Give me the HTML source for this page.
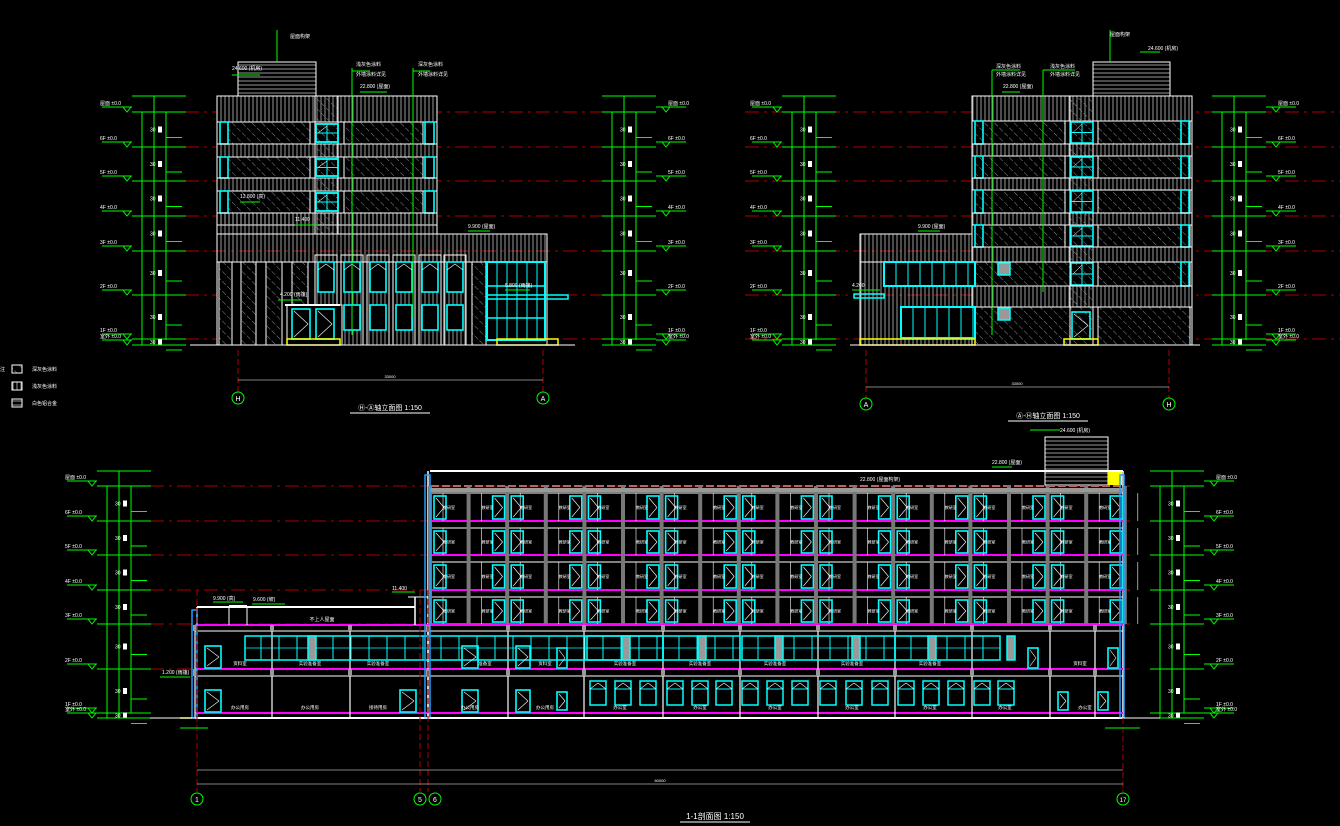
<!DOCTYPE html>
<html><head><meta charset="utf-8">
<style>
html,body{margin:0;padding:0;background:#000;}
svg{display:block;}
text{font-family:"Liberation Sans","Noto Sans CJK SC",sans-serif;fill:#fff;}
</style></head>
<body>
<svg id="s" width="1340" height="826" viewBox="0 0 1340 826" xmlns="http://www.w3.org/2000/svg">
<defs>
<pattern id="dg" width="7" height="7" patternUnits="userSpaceOnUse" patternTransform="rotate(-45)">
<line x1="0" y1="0" x2="0" y2="7" stroke="#8a8a8a" stroke-width="1" stroke-dasharray="4 2"/></pattern>
<pattern id="vs" width="4" height="10" patternUnits="userSpaceOnUse">
<line x1="1" y1="0" x2="1" y2="10" stroke="#bdbdbd" stroke-width="0.8"/></pattern>
<pattern id="hs" width="10" height="4" patternUnits="userSpaceOnUse">
<line x1="0" y1="1" x2="10" y2="1" stroke="#bdbdbd" stroke-width="0.8"/></pattern>
</defs>
<g id="g"></g>
</svg>
<script>
var g=document.getElementById('g'),h='';
function L(x1,y1,x2,y2,c,w,d){h+='<line x1="'+x1+'" y1="'+y1+'" x2="'+x2+'" y2="'+y2+'" stroke="'+c+'" stroke-width="'+(w||1)+'"'+(d?' stroke-dasharray="'+d+'"':'')+'/>';}
function R(x,y,w,hh,s,f,sw){h+='<rect x="'+x+'" y="'+y+'" width="'+w+'" height="'+hh+'" fill="'+(f||'none')+'" stroke="'+(s||'none')+'" stroke-width="'+(sw||1)+'"/>';}
function T(x,y,t,sz,a,c){h+='<text x="'+x+'" y="'+y+'" font-size="'+(sz||6)+'"'+(a?' text-anchor="'+a+'"':'')+(c?' style="fill:'+c+'"':'')+'>'+t+'</text>';}
function C(x,y,r,c){h+='<circle cx="'+x+'" cy="'+y+'" r="'+r+'" fill="none" stroke="'+c+'"/>';}
var W='#fff',G='#00ff00',CY='#00ffff',RD='#b00000',Y='#ffff00',M='#ff00ff',GR='#999';
function win(x,y,w,hh){R(x,y,w,hh,CY,'none',1.6);L(x+2,y+2,x+w-2,y+hh/2,W,0.6);L(x+w-2,y+hh/2,x+2,y+hh-2,W,0.6);}
function win2(x,y,w,hh){R(x,y,w,hh,CY,'none',1.6);L(x+w/2,y,x+w/2,y+hh,CY,1);L(x,y+hh/2,x+w,y+hh/2,CY,1);L(x+2,y+hh/2,x+w/2,y+2,W,.5);}
function redLevels(levels,x1,x2){levels.forEach(function(y){L(x1,y,x2,y,RD,1,'14 5 3 5');});}
function dimCol(xa,levels,top,right){
 var xs=right?[xa,xa+12,xa+24]:[xa,xa+12,xa+24];
 L(xs[0],levels[0],xs[0],levels[levels.length-1],G);L(xs[1],top,xs[1],levels[levels.length-1],G);L(xs[2],levels[0],xs[2],levels[levels.length-1]-5,G);
 L(xs[0]-10,top,xs[2]+20,top,G);
 levels.forEach(function(y,i){L(xs[0]-10,y,xs[2]+20,y,G);
   if(i<levels.length-1){var m=(y+levels[i+1])/2;T(xs[1]-4,m+2,'30',5);R(xs[2]-8,m-3,4,6,null,W);L(xs[2],m+8,xs[2]+16,m+8,G);}
   var lx=right?xs[2]+20:xs[0]-40;L(lx,y-5,lx+30,y-5,G);
   var tx=right?lx+10:lx+25;h+='<polygon points="'+(tx-4)+','+(y-5)+' '+(tx+4)+','+(y-5)+' '+tx+','+y+'" fill="none" stroke="'+G+'"/>';
   T(right?lx+12:lx-2,y-7,['屋面','6F','5F','4F','3F','2F','1F','室外'][i%8]+' ±0.0',5);});
}
// ===== Left elevation =====
var lv=[112,147,181,216,251,295,339,345];
redLevels(lv.slice(0,7),185,605);
dimCol(142,lv,96,false);dimCol(612,lv,96,true);
// tower
R(238,62,78,34,W,'url(#hs)');L(277,30,277,62,G);T(290,38,'屋面构架',5);L(232,75,260,75,G);T(232,70,'24.600 (机房)',5);
// main block
R(217,96,220,138,W,'#000');R(217,96,220,26,W,'url(#vs)');
[[122,144],[157,178],[191,213]].forEach(function(r,i){
 R(228,r[0],82,r[1]-r[0],W,'url(#dg)');R(344,r[0],79,r[1]-r[0],W,'url(#dg)');
 R(220,r[0],8,r[1]-r[0],CY,'none',1.6);R(425,r[0],9,r[1]-r[0],CY,'none',1.6);
 R(217,r[1],220,i<2?13:12,W,'url(#vs)');win2(316,r[0]+2,22,r[1]-r[0]-4);});
R(315,96,23,138,W,'url(#dg)');
[[122,144],[157,178],[191,213]].forEach(function(r){win2(316,r[0]+2,22,r[1]-r[0]-4);});
R(217,213,220,21,W,'url(#vs)');
// lower block
R(217,234,330,28,W,'url(#vs)');R(217,262,330,83,W,'#000');
[[219,232],[241,256],[266,282],[292,308],[472,486]].forEach(function(p){R(p[0],262,p[1]-p[0],83,W,'url(#dg)');});
[318,344,370,396,422,447].forEach(function(x){R(x-3,255,22,90,W,'url(#vs)');R(x,262,16,30,CY,'#000',1.6);R(x,305,16,25,CY,'#000',1.6);L(x,270,x+8,264,W,.6);L(x+8,264,x+16,270,W,.6);});
R(287,305,55,40,W,'#000');win(292,309,18,30);win(316,309,18,30);L(285,305,340,305,W,2);
R(487,262,58,78,CY,'none',2);for(var x=497;x<545;x+=10)L(x,262,x,340,CY,1);L(487,286,545,286,CY,1.5);L(487,318,545,318,CY,1.5);
R(487,295,81,4,CY,'none',1.5);
R(287,339,53,6,Y,'none',1.5);R(497,339,61,6,Y,'none',1.5);
L(190,345,575,345,W);
L(352,68,352,335,G);L(352,71,370,71,G);T(356,66,'浅灰色涂料',5);T(356,76,'外墙涂料详见',5);
L(413,68,413,318,G);L(413,71,430,71,G);T(418,66,'深灰色涂料',5);T(418,76,'外墙涂料详见',5);
L(360,92,387,92,G);T(360,88,'22.800 (屋面)',5);L(468,231,490,231,G);T(468,228,'9.900 (屋面)',5);
L(240,202,260,202,G);T(240,198,'13.800 (高)',5);L(295,225,318,225,G);T(295,221,'11.400',5);
L(278,300,302,300,G);T(280,296,'4.200 (雨篷)',5);L(505,290,530,290,G);T(505,287,'5.800 (雨篷)',5);
L(238,350,238,392,RD,1,'6 3');L(543,350,543,392,RD,1,'6 3');L(238,380,543,380,W,.6);T(390,378,'33000',4,'middle');
C(238,398,6,G);T(238,401,'H',7,'middle');C(543,398,6,G);T(543,401,'A',7,'middle');
T(390,410,'Ⓗ-Ⓐ轴立面图 1:150',7,'middle');L(350,413,430,413,W);
// legend
R(12,365,10,8,W,'url(#dg)');T(32,371,'深灰色涂料',5);R(12,382,10,8,W,'url(#vs)');T(32,388,'浅灰色涂料',5);R(12,399,10,8,W,'url(#hs)');T(32,405,'白色铝合金',5);T(0,371,'注',5);
// ===== Right elevation =====
redLevels(lv.slice(0,7),745,1340);
dimCol(792,lv,96,false);dimCol(1222,lv,96,true);
R(1093,62,77,34,W,'url(#hs)');L(1110,30,1110,62,G);L(1140,52,1160,52,G);T(1110,36,'屋面构架',5);T(1148,50,'24.600 (机房)',5);
R(972,96,220,249,W,'#000');R(972,96,220,25,W,'url(#vs)');
[[121,144],[156,178],[190,213],[225,247]].forEach(function(r,i){
 R(975,r[0],90,r[1]-r[0],W,'url(#dg)');R(1098,r[0],92,r[1]-r[0],W,'url(#dg)');
 R(975,r[0],8,r[1]-r[0],CY,'none',1.6);R(1181,r[0],8,r[1]-r[0],CY,'none',1.6);
 if(i<3)R(972,r[1],220,r[0+0]===190?12:12,W,'url(#vs)');});
R(1070,96,23,249,W,'url(#dg)');
[[121,144],[156,178],[190,213],[225,247],[262,286]].forEach(function(r){win2(1071,r[0]+1,22,r[1]-r[0]-2);});
R(972,247,220,15,W,'url(#vs)');R(975,262,95,24,W,'url(#dg)');R(1098,262,92,24,W,'url(#dg)');R(1181,262,8,24,CY,'none',1.6);
R(972,286,220,21,W,'url(#vs)');R(975,307,95,38,W,'url(#dg)');R(1098,307,92,38,W,'url(#dg)');win(1072,312,18,27);
R(998,263,12,12,CY,GR,1.5);R(998,308,12,12,CY,GR,1.5);
R(860,234,112,28,W,'url(#vs)');R(860,262,112,83,W,'url(#vs)');
R(884,262,91,24,CY,'#000',2);for(var x=896;x<975;x+=12)L(x,262,x,286,CY,1);
R(901,307,74,31,CY,'#000',2);for(var x=913;x<975;x+=12)L(x,307,x,338,CY,1);
R(854,294,30,4,CY,'none',1.5);
R(860,339,115,6,Y,'none',1.5);R(1064,339,34,6,Y,'none',1.5);
L(850,345,1200,345,W);
L(992,70,992,335,G);L(992,70,1020,70,G);T(996,68,'深灰色涂料',5);T(996,76,'外墙涂料详见',5);
L(1043,70,1043,292,G);L(1043,70,1075,70,G);T(1050,68,'浅灰色涂料',5);T(1050,76,'外墙涂料详见',5);
L(1002,92,1020,92,G);T(1003,88,'22.800 (屋面)',5);L(918,231,940,231,G);T(918,228,'9.900 (屋面)',5);L(852,290,880,290,G);T(852,287,'4.200',5);
L(866,350,866,398,RD,1,'6 3');L(1169,350,1169,398,RD,1,'6 3');L(866,387,1169,387,W,.6);T(1017,385,'33000',4,'middle');
C(866,404,6,G);T(866,407,'A',7,'middle');C(1169,404,6,G);T(1169,407,'H',7,'middle');
T(1048,418,'Ⓐ-Ⓗ轴立面图 1:150',7,'middle');L(1008,421,1088,421,W);
// ===== Section =====
var sl=[486,521,555,590,624,669,713,718];
redLevels(sl.slice(0,6),150,1130);
dimCol(107,sl,471,false);dimCol(1160,sl,471,true);
R(1045,437,63,48,W,'url(#hs)');R(1108,470,14,15,null,Y);L(1030,430,1060,430,G);T(1060,432,'24.600 (机房)',5);
L(430,471,1123,471,W,2);L(428,471,428,718,W,1.5);L(1123,471,1123,718,W,1.5);
L(431,486,1123,486,'#c06060',2,'8 3');
L(992,467,1012,467,G);T(992,464,'22.800 (屋面)',5);T(860,481,'22.800 (屋面构架)',5);
var cols=[];for(var i=0;i<19;i++)cols.push(430+i*38.6);
[[493,521],[528,555],[562,590],[597,624]].forEach(function(r,fi){
 L(430,r[1],1123,r[1],M,2);L(430,r[0],1123,r[0],W,1);
 cols.forEach(function(x,i){R(x-2,r[0]-7,4,r[1]-r[0]+7,null,'#777');L(x+13,r[0],x+13,r[1],W,.6);
  if(i<18){var d=(i%2==0)?x+4:x+24;win(d,r[0]+3,12,r[1]-r[0]-5);T(x+19,(r[0]+r[1])/2+2,'教研室',4,'middle');}});
});
L(430,490,1123,490,GR,4);
// 2F
L(195,669,1123,669,M,2);L(195,631,1123,631,W,1);L(195,625,1123,625,M,2);
L(195,676,1123,676,W,1);L(195,713,1123,713,M,2);L(195,718,1123,718,W,2);
[195,272,350,428,508,584,663,740,818,895,972,1050,1095].forEach(function(x){L(x,625,x,718,W,1.2);R(x-2,625,4,6,null,GR);R(x-2,669,4,7,null,GR);});
[[245,663],[742,895],[895,1000],[587,663],[663,740]].forEach(function(s){R(s[0],636,s[1]-s[0],24,CY,'none',1.5);for(var x=s[0]+16;x<s[1];x+=18)L(x,636,x,660,CY,1);L(s[0],648,s[1],648,CY,.8);});
[308,622,698,775,852,928,1007].forEach(function(x){R(x,636,8,24,CY,GR,1.5);});
win(205,646,16,22);win(462,646,16,22);win(516,646,14,22);win(557,648,10,20);win(1028,648,10,20);win(1108,648,10,20);
win(205,690,16,22);win(400,690,16,22);win(462,690,16,22);win(516,690,14,22);win(557,692,10,18);win(1058,692,10,18);win(1098,692,10,18);
[590,615,640,667,692,716,742,767,792,820,846,872,898,923,948,974,998].forEach(function(x){R(x,681,16,24,CY,'none',1.5);L(x,689,x+16,689,CY,1);L(x,689,x+8,683,W,.6);L(x+8,683,x+16,689,W,.6);});
[[240,665,'资料室'],[310,665,'实验准备室'],[378,665,'实验准备室'],[485,665,'准备室'],[545,665,'资料室'],[625,665,'实验准备室'],[700,665,'实验准备室'],[775,665,'实验准备室'],[852,665,'实验准备室'],[930,665,'实验准备室'],[1080,665,'资料室'],
 [240,709,'办公用房'],[310,709,'办公用房'],[378,709,'接待用房'],[470,709,'办公用房'],[545,709,'办公用房'],[620,709,'办公室'],[700,709,'办公室'],[775,709,'办公室'],[852,709,'办公室'],[930,709,'办公室'],[1005,709,'办公室'],[1085,709,'办公室']].forEach(function(t){T(t[0],t[1],t[2],4.5,'middle');});
// roof low part
L(197,607,415,607,W,2);L(197,607,197,625,W,1.5);L(229,606,229,625,W);L(229,606,247,606,W,2);L(247,606,247,625,W);L(415,597,415,625,W,1.5);L(408,597,428,597,W);
T(322,621,'不上人屋面',5,'middle');L(213,602,243,602,G);T(213,600,'9.900 (高)',5);L(252,604,285,604,G);T(253,601,'9.600 (坡)',5);L(392,592,415,592,G);T(392,590,'11.400',5);
R(192,610,5,108,'#1ea0ff','none',1.5);R(425,475,5,243,'#1ea0ff','none',1.5);R(1120,475,4,243,'#1ea0ff','none',1.5);
L(160,677,190,677,G);T(162,674,'1.200 (雨篷)',5);L(180,718,192,718,Y,1.5);
L(150,718,1160,718,W,1);
L(197,590,197,792,RD,1,'6 3');L(420,590,420,792,RD,1,'6 3');L(428,590,428,792,RD,1,'6 3');L(1123,718,1123,792,RD,1,'6 3');
L(197,770,1123,770,W,.6);L(197,784,1123,784,W,.6);T(660,782,'60000',4,'middle');
C(197,799,6,G);T(197,802,'1',7,'middle');C(420,799,6,G);T(420,802,'5',7,'middle');C(435,799,6,G);T(435,802,'6',7,'middle');C(1123,799,6,G);T(1123,802,'17',6,'middle');
L(180,728,208,728,G);L(1105,728,1140,728,G);
T(715,819,'1-1剖面图 1:150',8,'middle');L(680,822,750,822,W);
g.innerHTML=h;
</script>
</body></html>
